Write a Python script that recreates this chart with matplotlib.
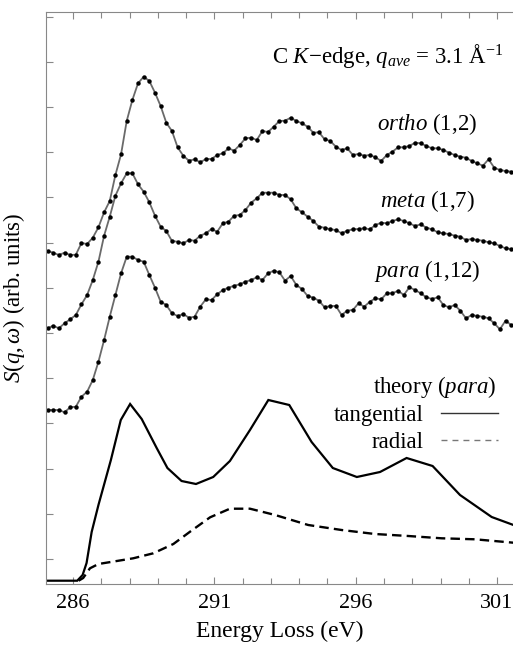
import matplotlib
matplotlib.use("Agg")
import matplotlib.pyplot as plt
from matplotlib.lines import Line2D
import numpy as np

plt.rcParams['font.family'] = ['Liberation Serif', 'DejaVu Serif']
plt.rcParams['mathtext.fontset'] = 'custom'
plt.rcParams['mathtext.rm'] = 'Liberation Serif'
plt.rcParams['mathtext.it'] = 'Liberation Serif:italic'
plt.rcParams['mathtext.bf'] = 'Liberation Serif:bold'

# ---------------- data (arb. units) ----------------
energy = [285.1, 285.3, 285.5, 285.7, 285.9, 286.1, 286.3, 286.5, 286.7, 286.9,
          287.1, 287.3, 287.5, 287.7, 287.9, 288.1, 288.3, 288.5, 288.7, 288.9,
          289.1, 289.3, 289.5, 289.7, 289.9, 290.1, 290.3, 290.5, 290.7, 290.9,
          291.1, 291.3, 291.5, 291.7, 291.9, 292.1, 292.3, 292.5, 292.7, 292.9,
          293.1, 293.3, 293.5, 293.7, 293.9, 294.1, 294.3, 294.5, 294.7, 294.9,
          295.1, 295.3, 295.5, 295.7, 295.9, 296.1, 296.3, 296.5, 296.7, 296.9,
          297.1, 297.3, 297.5, 297.7, 297.9, 298.1, 298.3, 298.5, 298.7, 298.9,
          299.1, 299.3, 299.5, 299.7, 299.9, 300.1, 300.3, 300.5, 300.7, 300.9,
          301.1, 301.3, 301.5]

ortho = [333, 331.3, 329, 331.3, 329, 329.3, 341, 340, 346.3, 356.7,
         371.7, 383, 409, 429.7, 463, 484, 500.7, 507.3, 503, 491.3,
         478, 461.3, 453, 436.7, 428.3, 423.3, 424.7, 421.7,
         425, 425, 429, 430.7, 435.7, 433.3, 439, 445.7, 446.3, 444,
         453, 452, 457.3, 463, 463.3, 466.3, 463, 460.7, 457.3, 451.3,
         451.7, 444.7, 443, 437.3, 434, 435.7, 429,
         430, 428.3, 429, 426.7, 423, 429, 432.3, 436.7, 436.7, 438,
         441.3, 440.7, 438, 435.7, 435.7, 434, 431.3, 429, 427.3, 426.3,
         423, 420.7, 418.3, 424.7, 416.3, 414, 413, 412.3]

meta = [255.7, 258.3, 255.7, 260.7, 264.7, 269, 279.7, 289, 304, 322.3,
        348.3, 367.3, 388.3, 400.7, 410.7, 410.7, 399.7, 392.3, 381.7, 368.3,
        357.3, 353, 343, 342.3, 340.7, 344, 343.3, 348.3,
        350.7, 355, 352.3, 360.7, 362.3, 368.3, 369, 374, 381.3, 385.7,
        391.3, 391.3, 391.3, 389, 389, 384.7, 375.7, 371.7, 367.3, 363,
        357.3, 356.3, 354.7, 354, 350.7, 353.3, 354.7,
        355, 355.7, 354.7, 359, 361.3, 360.7, 363, 364.7, 363, 360.7,
        358, 359.7, 356.3, 354.7, 351.7, 350.7, 350, 348.3, 347.3, 344,
        345, 344, 343.3, 341.7, 340.7, 338, 335.7, 335]

para = [174, 174, 174, 171.7, 176.7, 177.3, 187.3, 192.3, 204, 222.3,
        244, 267.3, 289, 310.7, 327.3, 327.3, 324, 322.3, 309, 296.3,
        282.3, 279, 270.7, 268, 270, 266.3, 267.3, 277.3,
        284.7, 284, 289.7, 294, 296.3, 298.3, 299.7, 302.3, 304, 306.7,
        304, 310.7, 313.3, 311.7, 303.3, 308, 299, 295, 288, 286.3,
        283.3, 276.7, 278, 278, 269, 273.3, 274,
        280.7, 277.3, 282.3, 285.7, 284.7, 290.7, 290.7, 293.3, 289, 296.7,
        294, 290.7, 286.7, 285, 286.7, 279, 276.7, 279, 273.3, 265.7,
        269, 268, 267.3, 265.7, 260.7, 254.7, 263.3, 259]

tang_E = [285.05, 286.15, 286.34, 286.48, 286.66, 286.9, 287.34, 287.69, 288.02,
          288.43, 288.96, 289.34, 289.84, 290.35, 290.96, 291.55, 292.26, 292.91,
          293.65, 294.44, 295.19, 296.04, 296.86, 297.80, 298.72, 299.69, 300.81,
          301.58]
tang_S = [3.3, 3.3, 9, 21, 52, 79, 124, 164, 180,
          165, 136, 116, 103, 100, 107, 123, 154, 184,
          179, 142, 116, 107, 112, 126, 118, 89, 67,
          59]

rad_E = [286.2, 286.36, 286.6, 286.9, 287.55, 288.13, 288.84, 289.55, 290.14,
         290.85, 291.55, 292.26, 293.15, 294.32, 295.5, 296.68, 297.86, 299.04,
         300.22, 301.58]
rad_S = [3.3, 6, 15.7, 20, 23, 25.7, 30.7, 40, 52.3,
         66.7, 75.3, 75.3, 69, 59, 54, 50, 48, 45.7,
         44.7, 41.3]

xticks = [286, 291, 296, 301]

# ---------------- figure ----------------
fig = plt.figure(figsize=(5.13, 6.48), dpi=100)
ax = fig.add_axes([46 / 513, 64 / 648, 467 / 513, 572 / 648])

exp_style = dict(color='#6a6a6a', lw=1.3, marker='o', ms=3.2,
                 mfc='black', mec='black', mew=0)
for series in (ortho, meta, para):
    ax.plot(energy, series, **exp_style)

ax.plot(tang_E, tang_S, color='black', lw=1.6, solid_joinstyle='miter')
ax.plot(rad_E, rad_S, color='black', lw=1.7, dashes=(4, 2.2))

fs = 16.5
ax.text(301.21, 521, r"C $K$−edge, $q_{ave}$ = 3.1 Å$^{-1}$",
        ha='right', va='baseline', fontsize=fs)
ax.text(300.29, 454, r"$ortho$ (1,2)", ha='right', va='baseline', fontsize=fs)
ax.text(300.22, 377, r"$meta$ (1,7)", ha='right', va='baseline', fontsize=fs)
ax.text(300.40, 307, r"$para$ (1,12)", ha='right', va='baseline', fontsize=fs)

h_t = Line2D([], [], color='#333333', lw=1.0)
h_r = Line2D([], [], color='#777777', lw=1.0, dashes=(4.3, 3.6))
leg = ax.legend([h_t, h_r], ['tangential', 'radial'], title=r"theory ($para$) ",
                loc='upper right', bbox_to_anchor=(0.968, 0.368),
                frameon=False, markerfirst=False, fontsize=fs,
                title_fontsize=fs, handlelength=2.5, handletextpad=0.75,
                labelspacing=0.25, borderpad=0, borderaxespad=0,
                alignment='right')

ax.set_xlim(285.045, 301.564)
ax.set_ylim(0, 572)
ax.set_xticks(xticks)
ax.set_xticks(np.arange(286, 302, 1), minor=True)
ax.set_yticks(np.arange(25, 572, 45.2))
ax.set_yticklabels([])
ax.tick_params(axis='both', which='both', direction='in', colors='#888888',
               labelcolor='black', top=True, width=0.8)
ax.tick_params(axis='x', which='major', length=5, labelsize=16, pad=7)
ax.tick_params(axis='x', which='minor', length=4)
ax.tick_params(axis='y', length=5)
for side in ('left', 'top', 'bottom'):
    ax.spines[side].set_color('#888888')
    ax.spines[side].set_linewidth(0.8)
ax.spines['right'].set_visible(False)

ax.set_xlabel("Energy Loss (eV)", fontsize=17, labelpad=6)
ax.set_ylabel(r"$S(q,\omega)$ (arb. units)", fontsize=16.5, labelpad=10)

fig.savefig("out.png", dpi=100)
